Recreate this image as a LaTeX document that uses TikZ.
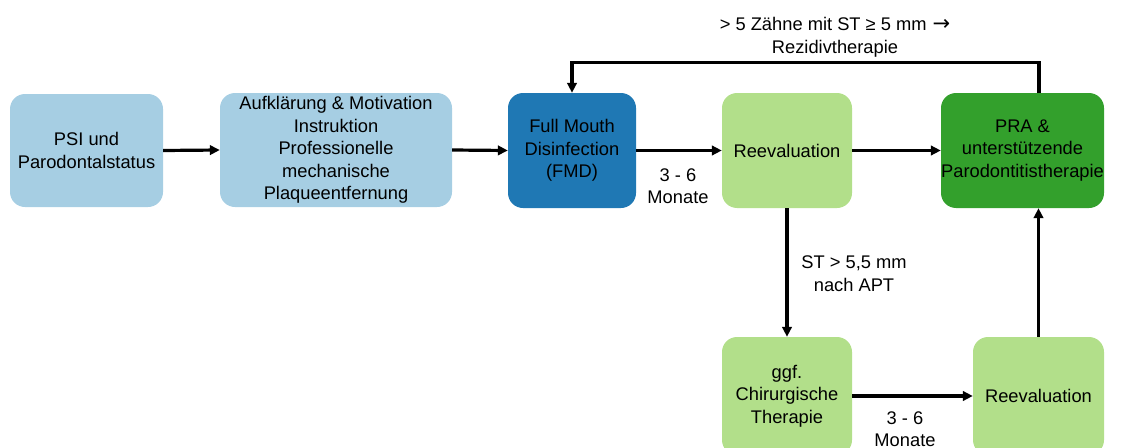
\documentclass[tikz,border=0pt]{standalone}
\usepackage{fontspec}
\setmainfont{Liberation Sans}
\newfontfamily\dejavu{DejaVu Sans}
\usetikzlibrary{arrows.meta}
\definecolor{lblue}{HTML}{A6CEE3}
\definecolor{dblue}{HTML}{1F78B4}
\definecolor{lgreen}{HTML}{B2DF8A}
\definecolor{dgreen}{HTML}{33A02C}
\tikzset{
  box/.style={rectangle, rounded corners=15pt, draw=none, align=center, inner sep=0pt,
    font=\fontsize{18.3}{22.6}\selectfont, text=black},
  lbl/.style={align=center, font=\fontsize{18.3}{22.6}\selectfont, inner sep=0pt},
  conn/.style={line width=3.2pt, -{Triangle[length=10pt,width=9.5pt]}}
}
\begin{document}
\begin{tikzpicture}[x=1pt,y=-1pt]
\useasboundingbox (0,0) rectangle (1129,447);
\begin{scope}
\clip (0,0) rectangle (1129,447);
\node[box, fill=lblue, minimum width=153pt, minimum height=113pt] (psi) at (86.5,150.5) {PSI und\\Parodontalstatus};
\node[box, fill=lblue, minimum width=232pt, minimum height=114pt] (auf) at (336,150) {Aufklärung \& Motivation\\Instruktion\\Professionelle\\mechanische\\Plaqueentfernung};
\node[box, fill=dblue, minimum width=128pt, minimum height=115pt] (fmd) at (572,150.5) {Full Mouth\\Disinfection\\(FMD)};
\node[box, fill=lgreen, minimum width=130pt, minimum height=115pt] (re1) at (787,150.5) {Reevaluation};
\node[box, fill=dgreen, minimum width=163pt, minimum height=115pt] (pra) at (1022.5,150.5) {PRA \&\\unterstützende\\Parodontitistherapie};
\node[box, fill=lgreen, minimum width=130pt, minimum height=118pt] (chir) at (787,396) {ggf.\\Chirurgische\\Therapie};
\node[box, fill=lgreen, minimum width=131pt, minimum height=118pt] (re2) at (1038.5,396) {Reevaluation};
\end{scope}

\coordinate (tr) at (1039,62.5);
\coordinate (tl) at (572,62.5);
\coordinate (prat) at (1039,93);

\draw[conn] (psi.east) -- (auf.west);
\draw[conn] (auf.east) -- (fmd.west);
\draw[conn] (fmd.east) -- (re1.west);
\draw[conn] (re1.east) -- (pra.west);
\draw[conn] (re1.south) -- (chir.north);
\draw[conn] (chir.east |- re2.west) -- (re2.west);
\draw[conn] (re2.north) -- (pra.south -| re2.north);
\draw[conn] (prat) -- (tr) -- (tl) -- (fmd.north);

\node[lbl] (l1) at (678,186) {3 - 6\\Monate};
\node[lbl] (l2) at (905,429) {3 - 6\\Monate};
\node[lbl] (l3) at (854,273.5) {ST > 5,5 mm\\nach APT};
\node[lbl] (l4) at (835,37) {> 5 Zähne mit ST ≥ 5 mm\hspace{6pt}{\dejavu\fontsize{21}{22}\selectfont →}\\Rezidivtherapie};
\end{tikzpicture}
\end{document}
